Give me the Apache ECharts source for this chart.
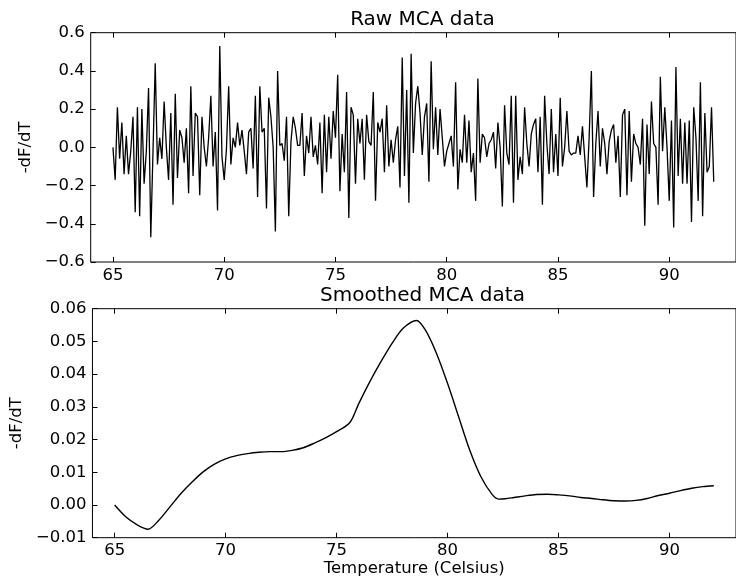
<!DOCTYPE html>
<html>
<head>
<meta charset="utf-8">
<script src="https://cdn.jsdelivr.net/npm/echarts@6/dist/echarts.min.js"></script>
<style>
  html, body { margin: 0; padding: 0; background: #fff; }
  #main { width: 736px; height: 581px; }
</style>
</head>
<body>
<div id="main"></div>
<script>
// raw -dF/dT samples, one every 0.1 degC starting at 65
var rawStart = 65;
var rawStep = 0.1;
var rawValues = [
  0.00, -0.17, 0.21, -0.06, 0.13, -0.14, 0.06, -0.14, -0.02, 0.16,
  -0.34, 0.21, -0.36, 0.20, -0.19, -0.02, 0.31, -0.47, -0.02, 0.44,
  -0.09, 0.05, -0.06, 0.24, 0.00, -0.17, 0.18, -0.30, 0.28, -0.16,
  0.09, 0.05, -0.08, 0.10, -0.24, 0.32, -0.15, 0.18, 0.16, -0.25,
  0.16, 0.00, -0.10, 0.05, 0.27, -0.10, 0.08, -0.33, 0.53, -0.05,
  -0.17, -0.01, 0.32, -0.09, 0.05, 0.00, 0.13, 0.01, 0.09, -0.02,
  -0.14, 0.08, 0.10, -0.11, 0.27, -0.26, 0.32, 0.08, 0.10, -0.32,
  0.26, 0.16, 0.00, -0.44, 0.40, 0.01, 0.02, -0.07, 0.16, -0.36,
  0.03, 0.16, 0.10, 0.01, 0.01, 0.18, -0.15, 0.06, -0.03, 0.16,
  -0.05, 0.01, -0.09, 0.13, -0.24, 0.17, -0.13, 0.16, -0.06, 0.19,
  0.05, 0.38, -0.23, 0.07, -0.13, 0.29, -0.37, 0.21, 0.17, -0.19,
  0.15, 0.02, 0.15, -0.17, 0.17, 0.03, 0.01, 0.29, -0.28, 0.13,
  0.08, 0.15, -0.13, 0.22, -0.10, 0.04, -0.08, 0.04, 0.11, -0.21,
  0.47, -0.15, 0.30, -0.29, 0.49, -0.03, 0.23, 0.32, 0.18, -0.04,
  0.16, 0.23, -0.18, 0.45, -0.01, 0.21, -0.04, 0.20, 0.05, -0.10,
  -0.02, 0.02, 0.06, -0.10, 0.34, -0.22, -0.01, -0.08, 0.17, -0.08,
  0.14, -0.13, -0.03, -0.28, 0.36, -0.08, 0.07, 0.05, -0.05, 0.02,
  0.04, 0.08, -0.11, 0.13, 0.00, -0.31, 0.22, -0.03, -0.09, 0.27,
  -0.29, 0.27, -0.17, -0.05, -0.14, 0.21, 0.02, -0.10, 0.07, 0.12,
  0.15, -0.13, 0.16, -0.30, 0.27, 0.02, -0.14, 0.20, -0.13, 0.07,
  -0.15, 0.26, -0.10, 0.00, 0.19, -0.02, -0.04, -0.03, -0.03, 0.06,
  -0.04, 0.11, -0.05, -0.21, 0.05, 0.40, -0.26, 0.02, 0.19, -0.10,
  0.10, 0.02, -0.14, 0.03, 0.09, 0.12, -0.08, 0.06, -0.26, 0.17,
  0.20, -0.25, 0.19, -0.18, 0.07, 0.02, 0.00, -0.09, 0.15, -0.41,
  0.12, -0.14, 0.24, 0.02, 0.00, -0.30, 0.37, -0.02, 0.21, 0.00,
  -0.28, 0.14, -0.42, 0.42, -0.15, 0.15, -0.19, 0.13, -0.19, 0.14,
  -0.39, 0.21, 0.05, -0.28, 0.34, -0.36, 0.18, -0.13, -0.10, 0.21,
  -0.18
];

// smoothed curve
var smoothTemps = [
  65, 65.5, 66, 66.5, 67, 67.5, 68, 68.5, 69, 69.5,
  70, 70.5, 71, 71.5, 72, 72.5, 73, 73.5, 74, 74.5,
  75, 75.6, 76, 76.5, 77, 77.5, 78, 78.6, 79, 79.5,
  80, 80.5, 81, 81.5, 82, 82.3, 82.6, 83, 83.5, 84,
  84.5, 85, 85.5, 86, 86.5, 87, 87.5, 88, 88.5, 89,
  89.5, 90, 90.5, 91, 91.5, 92
];
var smoothValues = [
  0.0000, -0.0036, -0.0060, -0.0074, -0.0046, -0.0005, 0.0036, 0.0071, 0.0102, 0.0125,
  0.0141, 0.0151, 0.0157, 0.0161, 0.0163, 0.0163, 0.0167, 0.0175, 0.0189, 0.0205,
  0.0224, 0.0252, 0.0310, 0.0377, 0.0438, 0.0494, 0.0540, 0.0564, 0.0535, 0.0464,
  0.0372, 0.0270, 0.0168, 0.0087, 0.0033, 0.0018, 0.0019, 0.0023, 0.0028, 0.0032,
  0.0033, 0.0031, 0.0028, 0.0023, 0.0020, 0.0016, 0.0013, 0.0012, 0.0014, 0.0020,
  0.0029, 0.0036, 0.0044, 0.0051, 0.0056, 0.0059
];

var xTicks = [65, 70, 75, 80, 85, 90];

var FONT = 'DejaVu Sans';
var minus = function (s) { return s.replace('-', '\u2212'); };

var rawData = rawValues.map(function (v, i) {
  return [+(rawStart + i * rawStep).toFixed(1), v];
});
var smoothData = smoothTemps.map(function (t, i) {
  return [t, smoothValues[i]];
});

function xAxisFor(gridIndex, onTop, name) {
  var ax = {
    gridIndex: gridIndex,
    type: 'value',
    position: onTop ? 'top' : 'bottom',
    min: 64,
    max: 93,
    axisLine: { show: false, onZero: false },
    axisTick: {
      inside: true, length: 5, customValues: xTicks,
      lineStyle: { color: '#000', width: 1 }
    },
    axisLabel: {
      show: !onTop, customValues: xTicks, margin: 5,
      color: '#000', fontSize: 16.5, fontFamily: FONT
    },
    splitLine: { show: false }
  };
  if (name) {
    ax.name = name;
    ax.nameLocation = 'middle';
    ax.nameGap = 22;
    ax.nameTextStyle = { color: '#000', fontSize: 16.5, fontFamily: FONT };
  }
  return ax;
}

function yAxisFor(gridIndex, min, max, step, digits) {
  return {
    gridIndex: gridIndex,
    type: 'value',
    min: min,
    max: max,
    interval: step,
    name: '-dF/dT',
    nameLocation: 'middle',
    nameGap: 53,
    nameTextStyle: { color: '#000', fontSize: 16.5, fontFamily: FONT },
    axisLine: { show: false, onZero: false },
    axisTick: { inside: true, length: 5, lineStyle: { color: '#000', width: 1 } },
    axisLabel: {
      margin: 6, color: '#000', fontSize: 16.5, fontFamily: FONT,
      formatter: function (v) { return minus(v.toFixed(digits)); }
    },
    splitLine: { show: false }
  };
}

var myChart = echarts.init(document.getElementById('main'), null, { renderer: 'canvas' });

var option = {
  backgroundColor: '#fff',
  animation: false,
  title: [
    {
      text: 'Raw MCA data', left: 417.5, top: 5, textAlign: 'center',
      textStyle: { color: '#000', fontSize: 20, fontWeight: 'normal', fontFamily: FONT }
    },
    {
      text: 'Smoothed MCA data', left: 417.5, top: 281, textAlign: 'center',
      textStyle: { color: '#000', fontSize: 20, fontWeight: 'normal', fontFamily: FONT }
    }
  ],
  grid: [
    { left: 90.7, top: 32.7, width: 654.2, height: 229.3, show: true, borderColor: '#000', borderWidth: 1 },
    { left: 90.7, top: 308.7, width: 654.2, height: 229, show: true, borderColor: '#000', borderWidth: 1 }
  ],
  xAxis: [
    xAxisFor(0, false),
    xAxisFor(0, true),
    xAxisFor(1, false, 'Temperature (Celsius)'),
    xAxisFor(1, true)
  ],
  yAxis: [
    yAxisFor(0, -0.6, 0.6, 0.2, 1),
    yAxisFor(1, -0.01, 0.06, 0.01, 2)
  ],
  series: [
    {
      name: 'Raw', type: 'line', xAxisIndex: 0, yAxisIndex: 0,
      data: rawData, showSymbol: false,
      lineStyle: { color: '#000', width: 1.3 }
    },
    {
      name: 'Smoothed', type: 'line', xAxisIndex: 2, yAxisIndex: 1,
      data: smoothData, showSymbol: false, smooth: 0.3,
      lineStyle: { color: '#000', width: 1.4 }
    }
  ]
};

myChart.setOption(option);
</script>
</body>
</html>
